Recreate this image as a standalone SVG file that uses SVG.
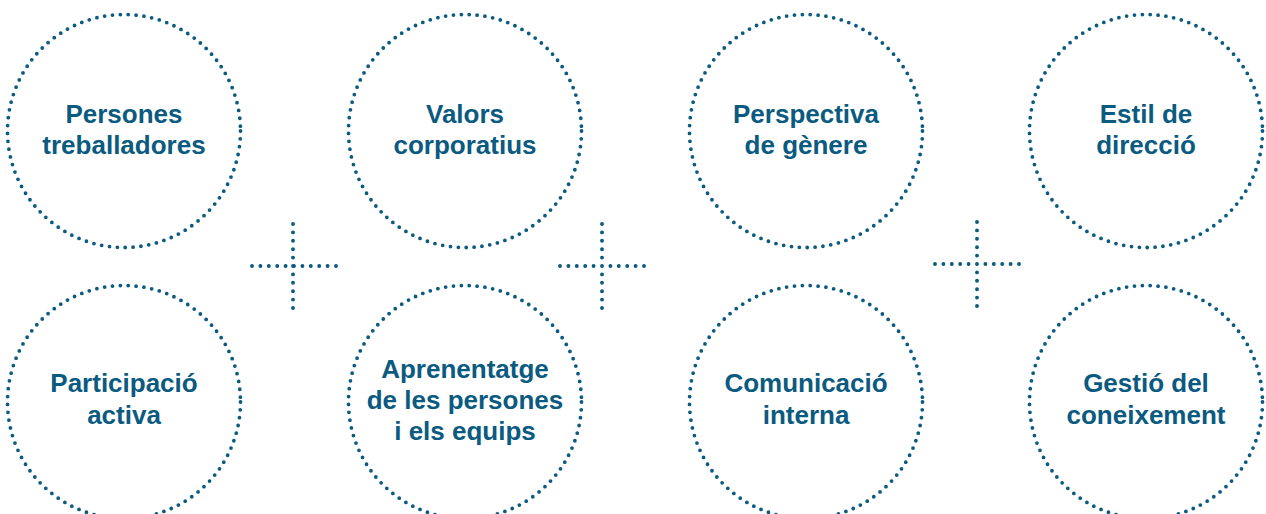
<svg xmlns="http://www.w3.org/2000/svg" width="1266" height="514" viewBox="0 0 1266 514">
<style>
.c{fill:none;stroke:#0b5a80;stroke-width:3.8;stroke-linecap:round;stroke-dasharray:0 7.9}
.p{fill:none;stroke:#0b5a80;stroke-width:3.9;stroke-linecap:round;stroke-dasharray:0 8.4}
text{font-family:"Liberation Sans",Arial,sans-serif;font-weight:700;font-size:26px;fill:#0b5a80;text-anchor:middle}
</style>
<rect width="1266" height="514" fill="#fff"/>
<g id="n1"><circle class="c" cx="124" cy="131" r="116.5"/><text x="124" y="123">Persones</text><text x="124" y="154">treballadores</text></g>
<g id="n2"><circle class="c" cx="465" cy="131" r="116.5"/><text x="465" y="123">Valors</text><text x="465" y="154">corporatius</text></g>
<g id="n3"><circle class="c" cx="806" cy="131" r="116.5"/><text x="806" y="123">Perspectiva</text><text x="806" y="154">de gènere</text></g>
<g id="n4"><circle class="c" cx="1146" cy="131" r="116.5"/><text x="1146" y="123">Estil de</text><text x="1146" y="154">direcció</text></g>
<g id="n5"><circle class="c" cx="124" cy="402" r="116.5"/><text x="124" y="392">Participació</text><text x="124" y="424">activa</text></g>
<g id="n6"><circle class="c" cx="465" cy="402" r="116.5"/><text x="465" y="378">Aprenentatge</text><text x="465" y="409">de les persones</text><text x="465" y="440">i els equips</text></g>
<g id="n7"><circle class="c" cx="806" cy="402" r="116.5"/><text x="806" y="392">Comunicació</text><text x="806" y="424">interna</text></g>
<g id="n8"><circle class="c" cx="1146" cy="402" r="116.5"/><text x="1146" y="392">Gestió del</text><text x="1146" y="424">coneixement</text></g>
<g id="connectors">
<path class="p" d="M293 224V308M252 266H336"/>
<path class="p" d="M602 224V308M560 266H644"/>
<path class="p" d="M977 222V306M935 264H1019"/>
</g>
</svg>
